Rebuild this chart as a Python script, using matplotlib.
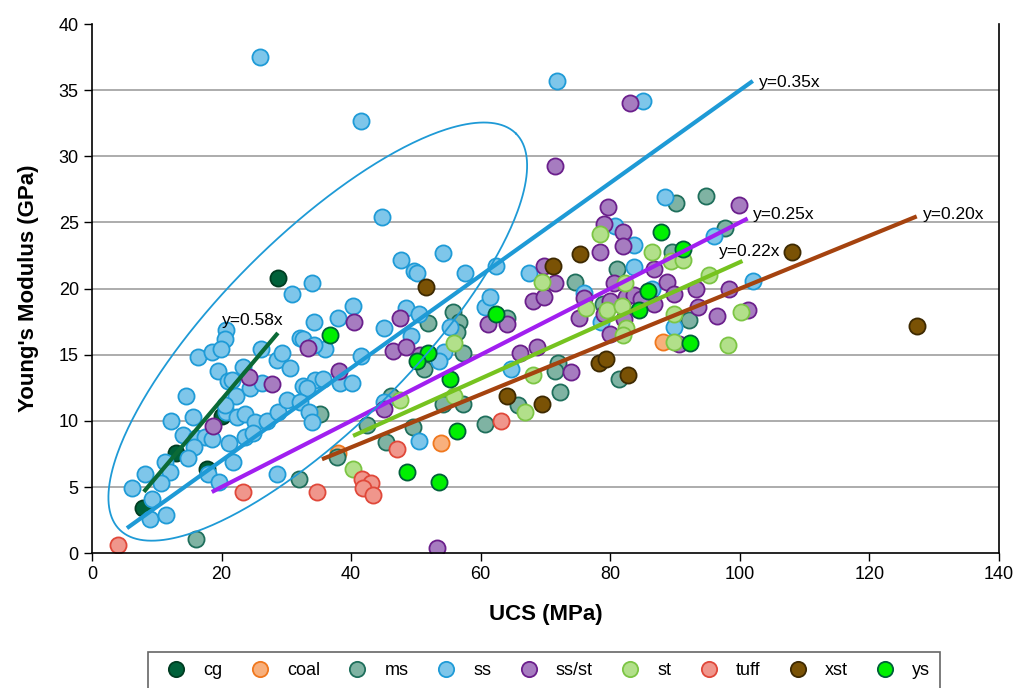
import numpy as np
import matplotlib
matplotlib.use("Agg")
import matplotlib.pyplot as plt
from matplotlib.lines import Line2D

plt.rcParams['font.family'] = ['Liberation Sans', 'DejaVu Sans']

# ---- data (UCS MPa, Young's modulus GPa) ----
cg_x = [28.7, 20.1, 13.0, 17.8, 7.9]
cg_y = [20.8, 10.4, 7.6, 6.4, 3.4]

coal_x = [37.9, 53.9, 88.1]
coal_y = [7.6, 8.3, 16.0]

ms_x = [32.0, 16.1, 35.2, 42.5, 45.4, 49.6, 46.1, 51.2, 51.8, 55.8, 56.7, 56.3, 57.3, 54.2,
        57.2, 60.7, 64.0, 37.8, 90.2, 94.7, 97.7, 89.5, 81.1, 74.6, 92.1, 71.9, 71.5, 81.4,
        72.3, 78.8, 65.7]
ms_y = [5.6, 1.1, 10.5, 9.7, 8.4, 9.5, 11.9, 13.9, 17.4, 18.2, 17.5, 16.7, 15.1, 11.3,
        11.3, 9.8, 17.8, 7.3, 26.5, 27.0, 24.6, 22.8, 21.5, 20.5, 17.6, 14.4, 13.8, 13.2,
        12.2, 18.8, 11.2]

ss_x = [30.9, 20.7, 20.6, 16.4, 18.5, 19.9, 19.5, 21.0, 21.6, 22.3, 23.3, 24.4, 26.1, 26.3,
        28.6, 30.5, 29.4, 32.1, 14.5, 12.2, 15.6, 20.7, 22.4, 23.6, 25.2, 27.0, 28.7, 30.1,
        32.6, 14.1, 16.1, 17.5, 18.5, 15.8, 14.8, 21.2, 23.6, 24.9, 21.8, 11.3, 12.1, 8.2,
        10.7, 6.2, 9.3, 9.0, 11.4, 17.9, 19.6, 28.6, 20.6,
        34.0, 34.2, 38.0, 40.3, 32.5, 36.0, 34.2, 41.6, 45.0, 48.4, 50.4, 49.3, 55.3, 54.4,
        53.6, 60.7, 61.4, 64.7, 34.5, 35.7, 33.2, 38.3, 40.2, 32.1, 33.5, 34.0, 45.0, 50.5,
        41.6, 44.7, 47.7, 49.7, 50.2, 54.2, 57.6, 62.4, 67.4, 26.0, 71.7, 85.0,
        88.4, 80.8, 83.6, 83.6, 96.0, 102.1, 75.9, 86.5, 78.5, 89.8]
ss_y = [19.6, 16.9, 16.2, 14.8, 15.2, 15.4, 13.8, 13.0, 13.1, 11.9, 14.1, 12.5, 15.4, 12.9,
        14.6, 14.0, 15.1, 16.3, 11.9, 10.0, 10.3, 10.7, 10.3, 10.5, 9.9, 10.0, 10.7, 11.6,
        12.6, 8.9, 8.7, 8.8, 8.6, 8.0, 7.2, 8.3, 8.8, 9.1, 6.9, 6.9, 6.1, 6.0,
        5.3, 4.9, 4.1, 2.6, 2.9, 6.0, 5.4, 6.0, 11.2,
        20.4, 17.5, 17.8, 18.7, 16.2, 15.4, 15.7, 14.9, 17.0, 18.5, 18.1, 16.4, 17.1, 15.2,
        14.5, 18.6, 19.4, 13.9, 13.1, 13.2, 12.5, 12.9, 12.9, 11.4, 10.7, 9.9, 11.4, 8.5,
        32.7, 25.4, 22.2, 21.3, 21.2, 22.7, 21.2, 21.7, 21.2, 37.5, 35.7, 34.2,
        26.9, 24.7, 23.3, 21.6, 24.0, 20.6, 19.7, 20.0, 17.5, 17.1]

ssst_x = [24.3, 27.8, 18.7, 33.4, 40.5, 38.2, 47.5, 46.4, 48.4, 50.7, 45.0, 61.2, 64.0, 53.3,
          71.4, 79.7, 99.8, 79.1, 81.9, 81.9, 78.4, 69.7, 71.5, 68.0, 69.7, 66.0, 68.7, 73.9,
          75.9, 75.1, 80.5, 82.5, 80.0, 79.1, 80.0, 83.6, 86.8, 88.8, 86.8, 93.2, 93.6, 89.8,
          96.4, 101.2, 98.3, 90.6, 83.0, 82.1, 84.8]
ssst_y = [13.3, 12.8, 9.6, 15.5, 17.5, 13.8, 17.8, 15.3, 15.6, 15.0, 10.9, 17.3, 17.3, 0.4,
          29.3, 26.2, 26.3, 24.9, 24.3, 23.2, 22.8, 21.7, 20.4, 19.1, 19.4, 15.1, 15.6, 13.7,
          19.3, 17.8, 20.4, 19.4, 19.1, 18.1, 16.6, 19.5, 21.5, 20.5, 18.8, 20.0, 18.6, 19.6,
          17.9, 18.4, 20.0, 15.8, 34.0, 17.7, 19.2]

st_x = [40.3, 47.6, 55.9, 55.9, 78.4, 86.5, 89.3, 91.3, 69.4, 82.2, 95.2, 79.5, 81.8, 76.3,
        82.5, 82.0, 89.8, 89.8, 100.1, 98.2, 68.0, 66.8]
st_y = [6.4, 11.6, 15.9, 11.9, 24.1, 22.8, 22.1, 22.2, 20.5, 20.4, 21.0, 18.4, 18.7, 18.5,
        17.0, 16.5, 18.1, 16.0, 18.2, 15.7, 13.5, 10.7]

tuff_x = [4.0, 23.3, 34.8, 47.1, 41.7, 43.0, 41.9, 43.4, 63.2]
tuff_y = [0.6, 4.6, 4.6, 7.9, 5.6, 5.3, 4.9, 4.4, 10.0]

xst_x = [51.6, 64.1, 75.4, 71.1, 78.2, 79.4, 82.7, 108.0, 127.3, 69.4]
xst_y = [20.1, 11.9, 22.6, 21.7, 14.4, 14.7, 13.5, 22.8, 17.2, 11.3]

ys_x = [36.8, 51.9, 50.2, 55.3, 56.4, 48.7, 53.5, 62.3, 87.8, 91.3, 85.8, 84.5, 92.3]
ys_y = [16.5, 15.1, 14.5, 13.2, 9.2, 6.1, 5.4, 18.1, 24.3, 23.0, 19.8, 18.4, 15.9]

# trend lines y = k*x over the x range drawn
fit_names = ['cg', 'ss', 'ss/st', 'st', 'xst']
fit_k = [0.58, 0.35, 0.25, 0.22, 0.20]
fit_x0 = [8.0, 5.4, 18.5, 40.3, 35.5]
fit_x1 = [28.7, 102.0, 101.2, 100.4, 127.3]
fit_label_xy = [(20.0, 17.6), (103.0, 35.6), (102.0, 25.6), (96.7, 22.8), (128.2, 25.6)]

# ellipse around the ss cluster: centre and two semi-axis vectors (data units)
ell_c = (34.85, 16.75)
ell_u = (30.6, 14.97)
ell_v = (10.38, -5.08)

series = [
    ('cg', cg_x, cg_y, '#00613a', '#003d22'),
    ('coal', coal_x, coal_y, '#f8b07c', '#f0781e'),
    ('ms', ms_x, ms_y, '#7fb3a3', '#1f6f5c'),
    ('ss', ss_x, ss_y, '#7ec6ea', '#1f9bd7'),
    ('ss/st', ssst_x, ssst_y, '#a67cc0', '#6b1f8c'),
    ('st', st_x, st_y, '#b2e08a', '#7cc544'),
    ('tuff', tuff_x, tuff_y, '#f0968c', '#e0483a'),
    ('xst', xst_x, xst_y, '#7a5205', '#3e2a02'),
    ('ys', ys_x, ys_y, '#00f000', '#00603a'),
]
fit_colors = ['#0b6a36', '#1e9ad6', '#a11ff0', '#76c31f', '#a5430f']

fig = plt.figure(figsize=(10.22, 6.88), dpi=100)
ax = fig.add_axes([0.090, 0.196, 0.8875, 0.769])

for yv in range(5, 40, 5):
    ax.axhline(yv, color='#a6a6a6', lw=1.3, zorder=0)

handles = []
for name, xs, ys, fc, ec in series:
    ax.scatter(xs, ys, s=135, c=fc, edgecolors=ec, linewidths=1.3, zorder=2)
    handles.append(Line2D([], [], ls='', marker='o', ms=11, mfc=fc, mec=ec, mew=1.3, label=name))

for k, x0, x1, col, (tx, ty) in zip(fit_k, fit_x0, fit_x1, fit_colors, fit_label_xy):
    xx = np.array([x0, x1])
    ax.plot(xx, k * xx, color=col, lw=3, zorder=3, solid_capstyle='butt')
    ax.text(tx, ty, f'y={k:.2f}x', fontsize=12.5, ha='left', va='center', zorder=4)

t = np.linspace(0, 2 * np.pi, 400)
ex = ell_c[0] + np.cos(t) * ell_u[0] + np.sin(t) * ell_v[0]
ey = ell_c[1] + np.cos(t) * ell_u[1] + np.sin(t) * ell_v[1]
ax.plot(ex, ey, color='#1e9ad6', lw=1.3, zorder=3)

ax.set_xlim(0, 140)
ax.set_ylim(0, 40)
ax.set_xticks(range(0, 141, 20))
ax.set_yticks(range(0, 41, 5))
ax.tick_params(direction='out', length=6, width=1, labelsize=13, colors='black')
ax.spines['top'].set_visible(False)
for s in ['left', 'bottom', 'right']:
    ax.spines[s].set_linewidth(1.2)
ax.set_xlabel('UCS (MPa)', fontsize=16, fontweight='bold', labelpad=15)
ax.set_ylabel("Young's Modulus (GPa)", fontsize=16, fontweight='bold', labelpad=14)

leg = fig.legend(handles=handles, loc='upper left', bbox_to_anchor=(0.145, 0.052, 0.775, 0.0),
                 mode='expand', ncol=9, frameon=True, fancybox=False, edgecolor='#404040',
                 fontsize=13, handletextpad=0.5, borderpad=0.55, borderaxespad=0)
leg.get_frame().set_linewidth(1.2)

fig.savefig('out.png', dpi=100)
